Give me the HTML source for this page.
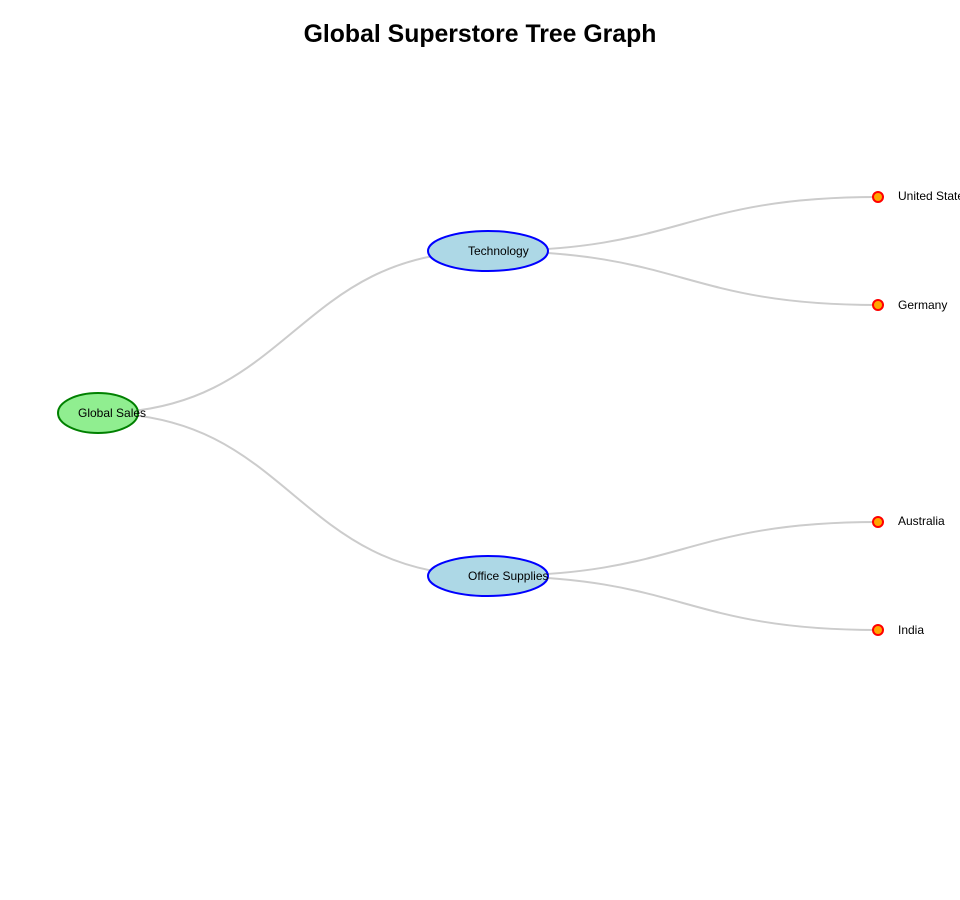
<!DOCTYPE html>
<html><head><meta charset="utf-8"><style>
html,body{margin:0;padding:0;background:#fff;width:960px;height:900px;overflow:hidden}
svg{display:block}
</style></head><body>
<svg width="960" height="900" xmlns="http://www.w3.org/2000/svg" font-family="Liberation Sans, DejaVu Sans, sans-serif">
<text x="480" y="42" text-anchor="middle" font-size="24.8" font-weight="bold" fill="#000">Global Superstore Tree Graph</text>
<g fill="none" stroke="#ccc" stroke-width="2">
<path d="M98,413 C293,413 293,251 488,251"/>
<path d="M98,413 C293,413 293,576 488,576"/>
<path d="M488,251 C683,251 683,197 878,197"/>
<path d="M488,251 C683,251 683,305 878,305"/>
<path d="M488,576 C683,576 683,522 878,522"/>
<path d="M488,576 C683,576 683,630 878,630"/>
</g>
<ellipse cx="98" cy="413" rx="40" ry="20" fill="#90ee90" stroke="green" stroke-width="2"/>
<ellipse cx="488" cy="251" rx="60" ry="20" fill="#add8e6" stroke="blue" stroke-width="2"/>
<ellipse cx="488" cy="576" rx="60" ry="20" fill="#add8e6" stroke="blue" stroke-width="2"/>
<g fill="orange" stroke="red" stroke-width="2">
<circle cx="878" cy="197" r="5"/><circle cx="878" cy="305" r="5"/>
<circle cx="878" cy="522" r="5"/><circle cx="878" cy="630" r="5"/>
</g>
<g font-size="12" fill="#000">
<text x="78" y="417">Global Sales</text>
<text x="468" y="255">Technology</text>
<text x="468" y="580">Office Supplies</text>
<text x="898" y="200">United States</text>
<text x="898" y="309">Germany</text>
<text x="898" y="525">Australia</text>
<text x="898" y="634">India</text>
</g>
</svg>
</body></html>
